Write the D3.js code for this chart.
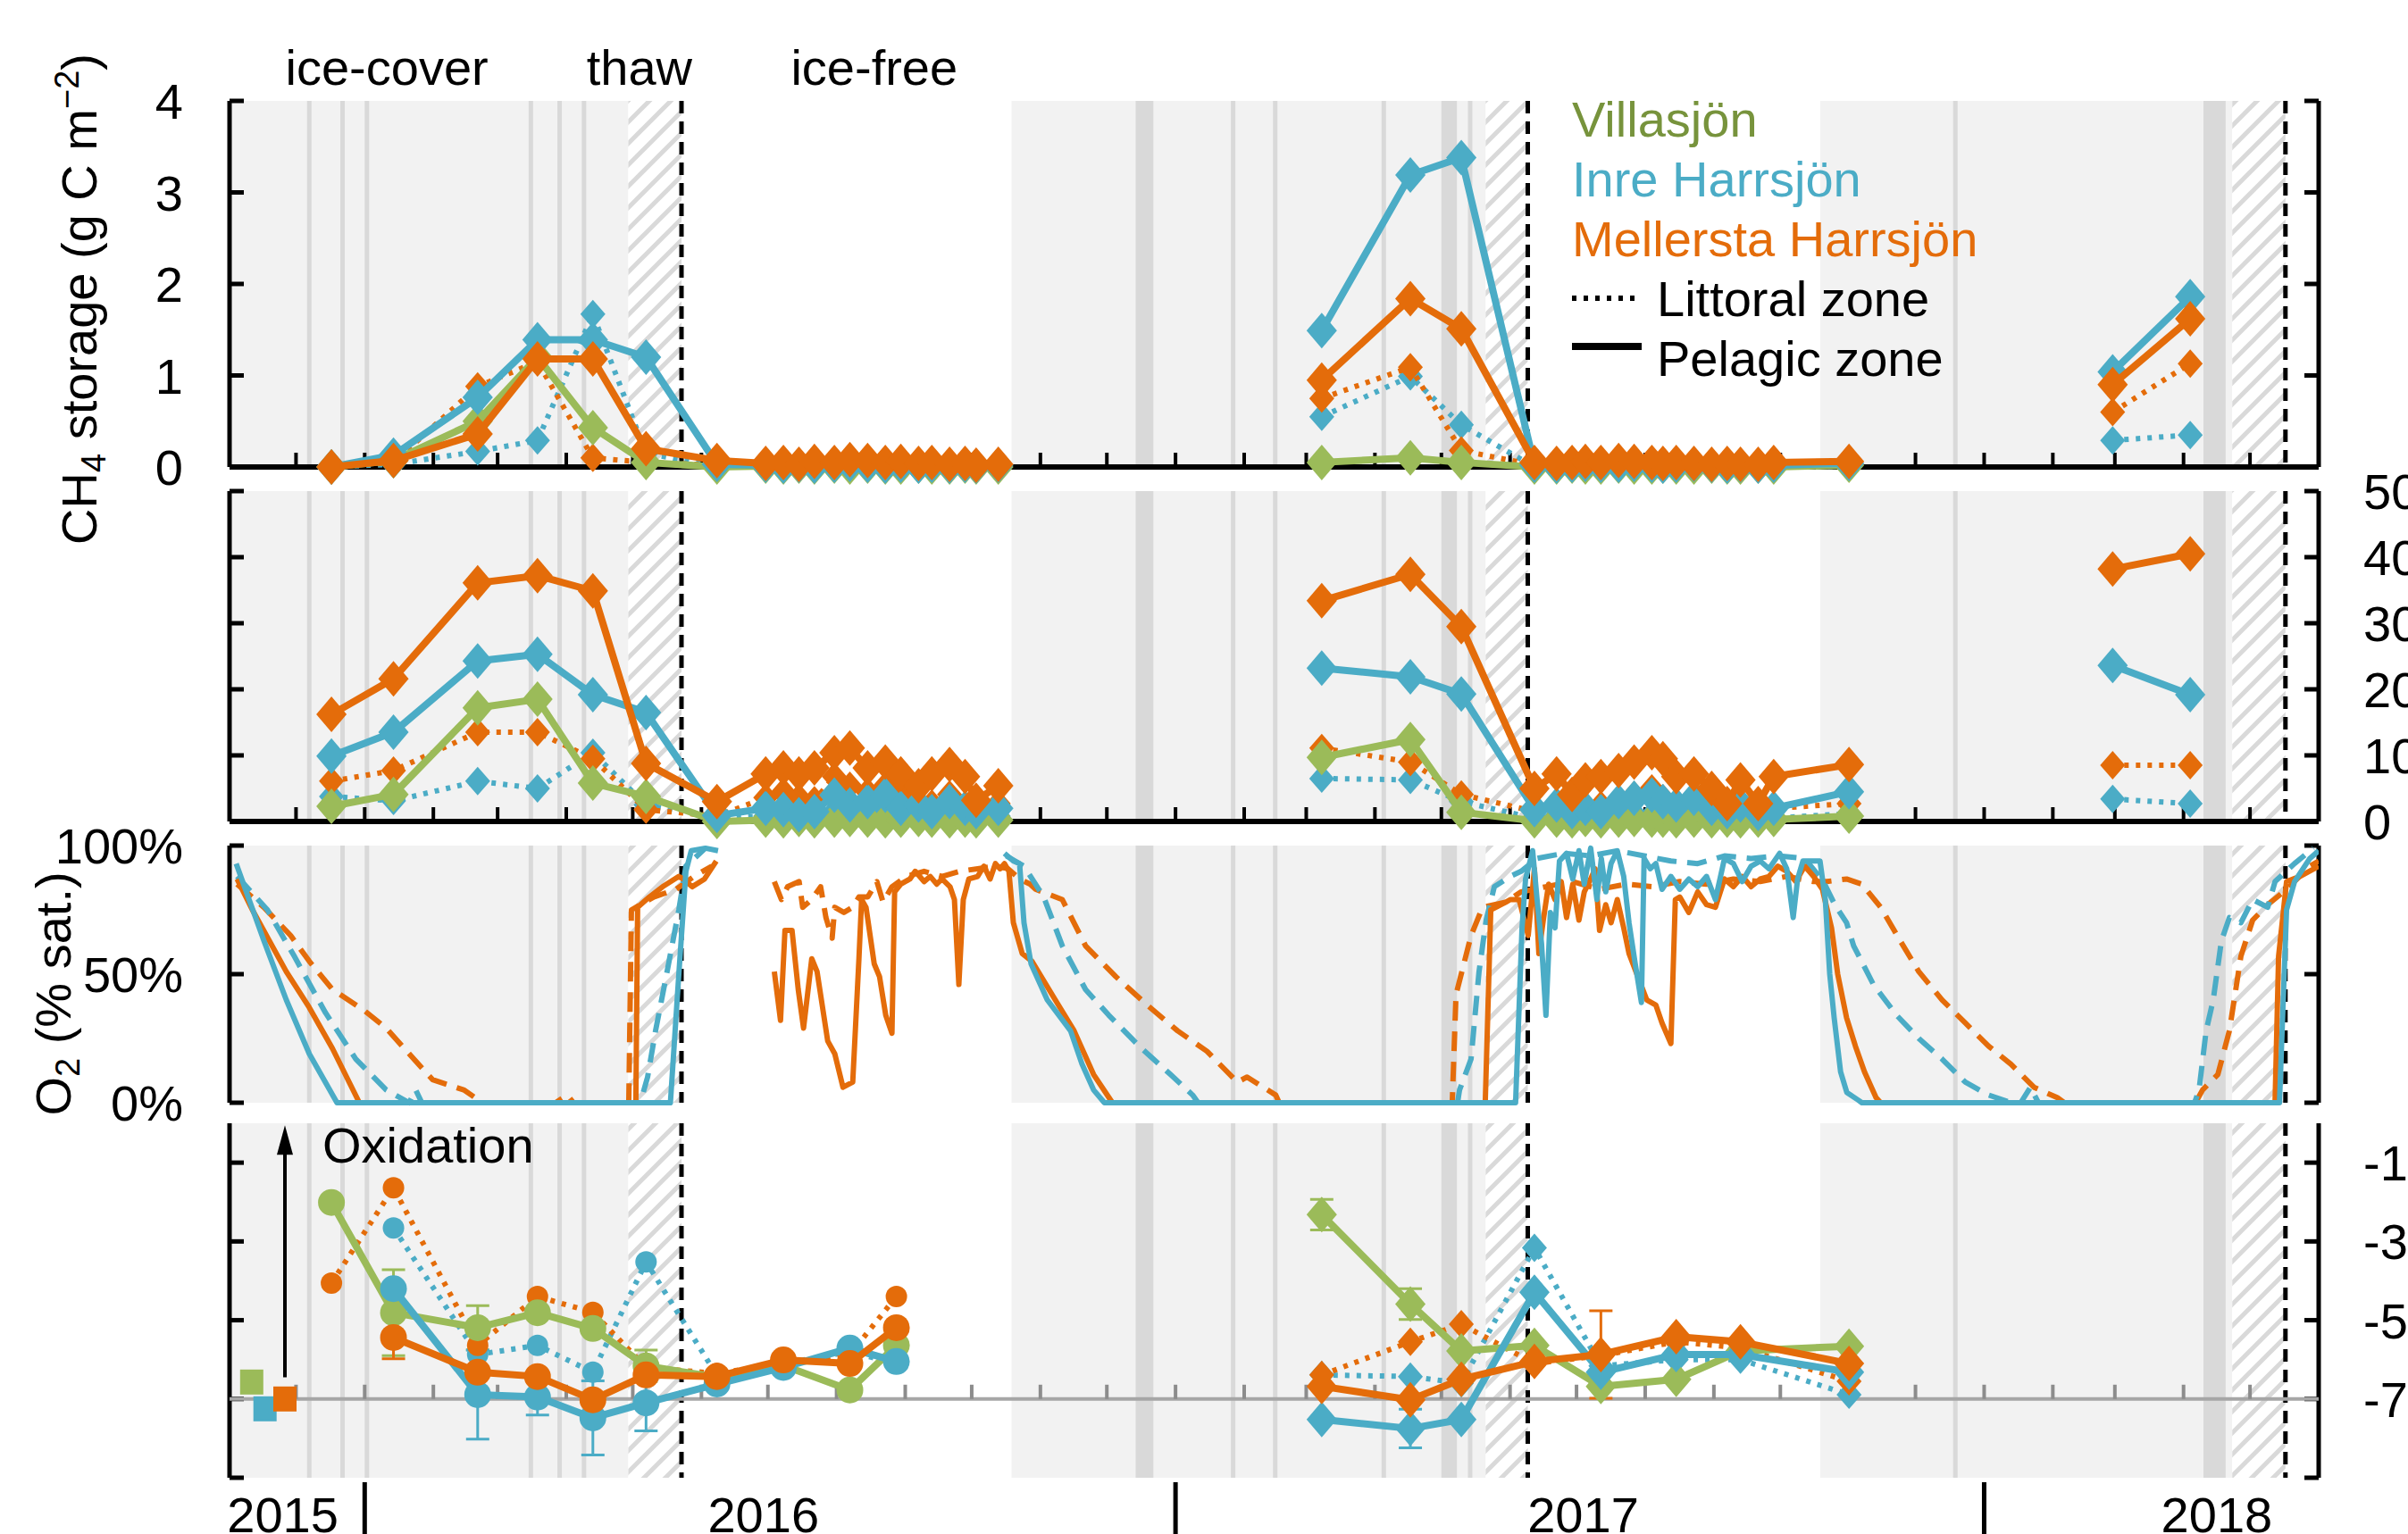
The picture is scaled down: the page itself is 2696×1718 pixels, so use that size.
<!DOCTYPE html>
<html>
<head>
<meta charset="utf-8">
<script src="https://cdn.jsdelivr.net/npm/d3@7"></script>
<style>
  body { margin: 0; background: #fff; }
  text { font-family: "Liberation Sans", Arial, sans-serif; }
</style>
</head>
<body>
<svg id="chart"></svg>
<script>
// ---- time axis ----
const xDomain = ["2015-11-01", "2018-06-01"];
const yearTicks = ["2016-01-01", "2017-01-01", "2018-01-01"];
const yearLabels = ["2015", "2016", "2017", "2018"];
const yearLabelDates = ["2015-11-25", "2016-06-29", "2017-07-04", "2018-04-16"];
const phaseLabels = ["ice-cover", "thaw", "ice-free"];
const phaseLabelDates = ["2016-01-11", "2016-05-04", "2016-08-18"];

// ---- ice phases ----
const iceStart = ["2015-11-01", "2016-10-19", "2017-10-19"];
const thawStart = ["2016-04-29", "2017-05-21", "2018-04-23"];
const iceOut = ["2016-05-23", "2017-06-09", "2018-05-17"];
const snowLines = ["2015-12-07", "2015-12-22", "2016-01-02", "2016-03-16", "2016-03-29", "2016-04-09",
                   "2017-01-27", "2017-02-15", "2017-04-05", "2017-05-14", "2017-12-19"];
const snowBands = [["2016-12-14", "2016-12-22"], ["2017-05-01", "2017-05-08"], ["2018-04-10", "2018-04-20"]];

// ---- sampling campaigns (panels 1 and 2) ----
const sampleDates = [
  "2015-12-17", "2016-01-14", "2016-02-21", "2016-03-19", "2016-04-13", "2016-05-07", "2016-06-08",
  "2016-06-30", "2016-07-08", "2016-07-15", "2016-07-22", "2016-07-31", "2016-08-07", "2016-08-15",
  "2016-08-23", "2016-08-30", "2016-09-07", "2016-09-13", "2016-09-21", "2016-09-28", "2016-10-03", "2016-10-13",
  "2017-03-08", "2017-04-17", "2017-05-10",
  "2017-06-12", "2017-06-22", "2017-06-29", "2017-07-05", "2017-07-12", "2017-07-20", "2017-07-27",
  "2017-08-04", "2017-08-09", "2017-08-15", "2017-08-23", "2017-08-31", "2017-09-07", "2017-09-13",
  "2017-09-21", "2017-09-28", "2017-11-01",
  "2018-02-28", "2018-04-04"];

// CH4 storage (g C m-2)
const storVillaP = [0, 0.07, 0.5, 1.2, 0.43, 0.05, 0,
  0.01, 0, 0.01, 0, 0.01, 0, 0.01, 0, 0, 0.01, 0, 0, 0.01, 0, 0,
  0.05, 0.1, 0.05,
  0, 0, 0.01, 0, 0, 0.01, 0, 0, 0.01, 0, 0, 0.01, 0, 0, 0.01, 0, 0.02,
  null, null];
const storInreP = [0, 0.13, 0.76, 1.39, 1.39, 1.2, 0.03,
  0.02, 0.01, 0.02, 0.01, 0.02, 0.03, 0.02, 0.01, 0.02, 0.01, 0.02, 0.01, 0.02, 0.01, 0.02,
  1.49, 3.19, 3.38,
  0.02, 0.01, 0.02, 0.03, 0.02, 0.02, 0.03, 0.02, 0.01, 0.02, 0.03, 0.02, 0.01, 0.02, 0.01, 0.02, 0.04,
  1.04, 1.86];
const storMellP = [0, 0.07, 0.36, 1.18, 1.18, 0.2, 0.07,
  0.04, 0.05, 0.03, 0.06, 0.05, 0.08, 0.07, 0.05, 0.06, 0.04, 0.05, 0.03, 0.04, 0.02, 0.03,
  0.95, 1.84, 1.51,
  0.05, 0.04, 0.05, 0.06, 0.05, 0.07, 0.06, 0.05, 0.04, 0.05, 0.04, 0.03, 0.04, 0.03, 0.03, 0.05, 0.06,
  0.9, 1.62];
const storInreL = [0, 0.03, 0.17, 0.29, 1.67, 0.15, 0.01,
  0, 0, 0, 0, 0, 0.01, 0, 0, 0, 0, 0, 0, 0, 0, 0,
  0.55, 0.99, 0.46,
  0, 0, 0, 0, 0, 0, 0, 0, 0, 0, 0, 0, 0, 0, 0, 0, 0.01,
  0.29, 0.35];
const storMellL = [0, 0.05, 0.88, 1.15, 0.1, 0.05, 0.02,
  0.01, 0.01, 0, 0.01, 0.01, 0.02, 0.01, 0.01, 0.01, 0, 0.01, 0, 0.01, 0, 0.01,
  0.75, 1.09, 0.18,
  0.02, 0.01, 0.01, 0.01, 0.01, 0.02, 0.02, 0.02, 0.01, 0.01, 0.01, 0.01, 0, 0.01, 0, 0.01, 0.02,
  0.6, 1.13];

// panel 2 (right axis 0-50)
const concVillaP = [2.3, 4.1, 17.2, 18.5, 5.8, 3.8, 0,
  0.2, 0.1, 0.3, 0.1, 0.2, 0.3, 0.2, 0.1, 0.2, 0.3, 0.2, 0.1, 0.2, 0.1, 0.2,
  9.7, 12.4, 1.4,
  0.1, 0.2, 0.1, 0.3, 0.1, 0.2, 0.3, 0.2, 0.2, 0.1, 0.2, 0.1, 0.2, 0.1, 0.2, 0.3, 0.8,
  null, null];
const concInreP = [9.9, 13.5, 24.3, 25.3, 19.2, 16.5, 0.9,
  2.0, 1.8, 1.0, 1.5, 4.0, 2.5, 3.0, 4.0, 2.0, 2.5, 1.5, 3.0, 2.0, 1.5, 2.0,
  23.2, 21.9, 19.3,
  1.8, 2.5, 1.5, 2.0, 1.5, 3.0, 3.5, 4.0, 3.0, 2.5, 3.5, 2.0, 1.5, 2.5, 1.2, 2.0, 4.5,
  23.6, 19.2];
const concMellP = [16.2, 21.6, 36.1, 37.2, 34.9, 8.8, 3.0,
  7.2, 8.1, 7.2, 8.1, 10.4, 11.1, 8.1, 9.0, 7.2, 5.4, 7.2, 8.6, 6.8, 3.2, 5.4,
  33.4, 37.4, 29.5,
  5.0, 7.2, 4.1, 6.3, 6.8, 7.7, 9.0, 10.4, 9.5, 6.8, 7.2, 5.0, 2.7, 6.3, 2.7, 6.8, 8.6,
  38.2, 40.5];
const concInreL = [3.8, 3.1, 6.1, 5.0, 10.4, 2.5, 0.5,
  0.8, 1.0, 0.5, 0.7, 1.5, 1.0, 1.2, 1.5, 1.0, 0.8, 0.6, 1.0, 0.8, 0.5, 0.8,
  6.5, 6.3, 3.0,
  0.5, 0.8, 0.5, 0.6, 0.7, 1.0, 1.2, 1.0, 0.8, 0.6, 0.9, 0.5, 0.4, 0.6, 0.4, 0.5, 1.2,
  3.4, 2.7];
const concMellL = [6.1, 7.7, 13.5, 13.5, 9.5, 1.8, 0.8,
  3.6, 4.5, 3.6, 3.2, 6.8, 5.4, 4.5, 5.4, 4.1, 2.3, 2.7, 4.1, 2.3, 1.4, 2.7,
  11.1, 9.0, 4.1,
  1.5, 2.0, 1.0, 1.5, 2.5, 3.0, 4.0, 5.0, 3.5, 2.5, 3.0, 2.0, 1.5, 2.5, 1.5, 2.0, 2.7,
  8.5, 8.5];

// ---- O2 saturation (%), [days after 2016-01-01, value]; null breaks the line ----
const o2Epoch = "2016-01-01";
const o2InreP = [[-58,93],[-45.5,63],[-35.4,40],[-25,19],[-12.5,0],[138,0],[141.8,50],[145,90],[147.4,98],[153.8,99],[159.5,98], null,
  [288.8,97],[292.8,94],[295.6,93],[297.6,70],[300.8,54],[308.1,40],[318.6,28],[323.8,15],[329,5],[333.9,0],
  [519.5,0],[522.4,68],[524,87],[527.2,98],[529.2,79],[531.2,62],[533.2,34],[535.2,74],[537.3,68],[539.3,94],
  [542.5,97],[545.3,87],[548.1,98],[550.5,85],[553.4,99],[556.2,79],[558.2,95],[560.2,82],[562.6,93],[565.4,98],
  [568.3,88],[570.7,70],[573.5,54],[576.3,39],[577.5,95],[580.3,91],[582.8,93],[585.6,83],[589.6,88],[593.6,83],
  [597.7,87],[601.7,84],[605.7,88],[609.7,79],[613.8,95],[617.8,93],[621.8,86],[625.8,92],[629.9,94],[633.9,91],
  [638.7,97],[641.9,91],[644.8,72],[646.8,87],[649.2,94],[652.9,94],[656.9,94],[659.3,79],[661.3,50],[663.3,33],
  [666.2,12],[669,4],[674.2,1],[675.8,0],[864.3,0],[867.5,75],[871.1,86],[878,95],[882,98]];
const o2InreL = [[-57.6,88],[-43.9,75],[-31.8,57],[-17.7,35],[-4,17],[9.7,5],[20.1,0],[23,5],[25.8,0],[124.4,0],
  [127.7,10],[131.3,28],[136.5,51],[141.8,75],[145,92],[153.8,99], null,
  [289.6,96],[297.6,92],[306.5,80],[314.9,61],[325.4,44],[335.9,34],[349.6,22],[363.7,11],[373.7,3],[376.2,0],
  [493.3,0],[494.2,5],[499.4,17],[503,51],[506.2,71],[509.9,84],[517.1,88],[522,90],[529.2,95],[541.3,97],
  [553.4,96],[565.4,98],[577.5,96],[589.6,94],[601.7,93],[613.8,96],[625.8,95],[637.9,96],[650,95],[658.4,86],
  [663.6,77],[668.9,70],[672.1,61],[681,46],[691.5,34],[701.5,25],[712,17],[722.5,8],[733,3],[743.1,0],
  [747.5,0],[751.9,6],[755.5,0],[826,0],[828,5],[831.2,28],[834.4,40],[838.1,63],[841.7,72],[846.9,70],
  [852.2,79],[859,76],[862.3,86],[871.1,93],[879.6,99]];
const o2MellP = [[-57.6,87],[-50.7,75],[-35.4,51],[-25,37],[-14.5,21],[-2.4,0],[122.4,0],[123.2,76],[128.5,80],
  [134.5,84],[141.8,88],[143.8,87],[147.8,84],[153.4,87],[158.7,94], null,
  [184.9,51],[187.7,32],[189.7,67],[192.9,67],[195.7,44],[198.1,29],[201.8,56],[204.2,51],[209,24],[212.2,19],
  [215.9,6],[220.3,8],[223.1,56],[224.3,79],[226.3,76],[230,54],[232.4,49],[235.2,34],[238,27],[239.2,82],
  [242,85],[246.1,87],[248.5,90],[252.5,86],[255.3,88],[258.2,85],[260.6,87],[264.2,84],[266.2,79],[268.2,46],
  [270.2,79],[272.7,87],[276.7,88],[279.5,92],[282.3,87],[284.7,93],[286.8,91],[288.8,93],[290.8,90],[292.8,70],
  [296.8,58],[301.2,55],[311.7,40],[320.2,28],[329,11],[337.5,0],[505.8,0],[508.3,75],[515.1,78],[517.1,79],
  [521.1,79],[525.2,65],[528,91],[530,58],[532,71],[534.4,85],[537.3,79],[540.1,86],[542.5,72],[545.3,85],
  [548.1,71],[550.5,82],[553.4,87],[555.4,91],[557.4,67],[560.2,77],[562.6,70],[565.4,79],[568.3,68],[570.7,58],
  [574.7,49],[578.7,40],[582.8,38],[585.6,31],[589.6,23],[591.6,79],[593.6,80],[597.7,74],[601.7,82],[605.7,77],
  [609.7,76],[613.8,87],[617.8,84],[621.8,88],[625.8,84],[629.9,87],[633.9,88],[637.9,92],[641.9,90],[646,86],
  [650,92],[654,88],[658,83],[662.1,68],[664.9,50],[668.9,33],[672.9,22],[677,12],[682.2,2],[684.3,0],
  [862.3,0],[863.9,57],[867.5,86],[873.5,88],[882,92]];
const o2MellL = [[-57.6,85],[-45.5,76],[-33.4,65],[-25,55],[-14.5,44],[-0.4,36],[9.7,29],[20.1,19],[30.6,9],[44.7,5],
  [53.2,0],[86.2,0],[91.4,3],[94.2,0],[119.2,0],[120.4,75],[130.5,80],[140.6,83],[148.6,88],[156.7,92], null,
  [184.9,86],[188.1,79],[190.9,84],[196.1,86],[197.7,76],[201.8,79],[205.8,84],[208.2,72],[211,64],[212.2,76],
  [216.3,74],[220.3,76],[223.1,80],[227.1,80],[231.2,86],[234,78],[238,84],[244.5,88],[252.5,90],[260.6,88],
  [268.6,90],[276.7,91],[284.7,92],[290.4,91],[295.6,87],[300.4,85],[302.9,83],[314.9,79],[325.4,61],[339.1,49],
  [353.2,38],[366.9,28],[380.2,20],[393.9,8],[398.3,10],[411.2,3],[412.8,0],[490.9,0],[492.6,42],[499.4,65],
  [504.6,76],[515.1,78],[522,82],[533.2,84],[545.3,86],[557.4,83],[569.5,85],[581.6,84],[593.6,86],[605.7,85],
  [617.8,87],[629.9,86],[641.9,88],[654,86],[660,86],[668.9,87],[675.8,85],[684.3,76],[693.1,63],[701.5,51],
  [712,40],[722.5,31],[733,22],[743.1,15],[753.5,6],[764,2],[767.2,0],[826.4,0],[829.6,5],[836.5,11],
  [841.7,28],[846.9,57],[852.2,71],[859,77],[867.5,83],[878,92],[882,94]];

// ---- panel 4 (right axis -90 .. 0) ----
const d13Dates = ["2015-12-17", "2016-01-14", "2016-02-21", "2016-03-19", "2016-04-13", "2016-05-07", "2016-06-08",
  "2016-07-08", "2016-08-07", "2016-08-28",
  "2017-03-08", "2017-04-17", "2017-05-10", "2017-06-12", "2017-07-12", "2017-08-15", "2017-09-13", "2017-11-01"];
const d13VillaP = [-20.1, -48.1, -51.9, -48.1, -52.1, -61.6, -64.5, -61.5, -67.7, -56.4,
  -23.2, -45.9, -57.8, -56.4, -66.8, -65.0, -57.8, -56.6];
const d13InreP = [null, -42.0, -68.9, -69.5, -74.8, -71.0, -66.2, -62.0, -57.1, -60.5,
  -75.2, -77.5, -75.2, -42.9, -63.2, -58.7, -58.7, -63.2];
const d13MellP = [null, -54.4, -63.2, -64.3, -70.2, -63.9, -64.3, -60.1, -61.0, -51.9,
  -66.8, -70.2, -65.0, -60.5, -58.7, -54.2, -55.5, -61.0];
const d13InreL = [null, -26.6, -58.7, -56.4, -63.2, -35.2, -64.0, -61.0, -58.0, -61.0,
  -63.9, -64.3, -66.0, -31.6, -61.6, -60.0, -60.0, -68.9];
const d13MellL = [-40.6, -16.4, -56.4, -44.0, -48.0, -62.0, -63.5, -61.0, -58.7, -44.0,
  -63.9, -55.5, -51.0, -61.0, -59.0, -55.5, -57.0, -65.5];
const errSeries = ["villa", "villa", "villa", "mell", "inre", "inre", "inre", "inre", "villa", "villa", "mell", "inre"];
const errIndex = [1, 2, 5, 1, 2, 3, 4, 5, 10, 11, 14, 11];
const errSize = [10.9, 5.6, 4.0, 5.4, 11.3, 4.6, 9.4, 7.1, 3.9, 3.9, 11.1, 4.9];
const srcDates = ["2015-11-11", "2015-11-17", "2015-11-26"];
const srcValues = [-65.7, -72.5, -70];
const srcLakes = ["villa", "inre", "mell"];

// ---- tick values ----
const storTicks = [0, 1, 2, 3, 4];
const concTicks = [0, 10, 20, 30, 40, 50];
const o2Ticks = [0, 50, 100];
const d13Ticks = [-10, -30, -50, -70, -90];
const d13Labels = [-10, -30, -50, -70];

// ---- styles ----
const colors = { villa: "#9bbb59", inre: "#4bacc6", mell: "#e46c0a" };
const legendColors = { villa: "#77933c", inre: "#4bacc6", mell: "#e46c0a" };
const W = 2696, H = 1718;
const X0 = 257, X1 = 2596;
const P1 = [113, 523], P2 = [550, 920], P3 = [947, 1235], P4 = [1258, 1655];
const FS = 56;

const parseDate = d3.timeParse("%Y-%m-%d");
const epoch = parseDate(o2Epoch);
const dayToDate = d => new Date(epoch.getTime() + d * 864e5);

const svg = d3.select("#chart").attr("width", W).attr("height", H);
svg.append("rect").attr("width", W).attr("height", H).attr("fill", "#fff");

const x = d3.scaleTime().domain(xDomain.map(parseDate)).range([X0, X1]);
const y1 = d3.scaleLinear().domain([0, 4]).range([P1[1], P1[0]]);
const y2 = d3.scaleLinear().domain([0, 50]).range([P2[1], P2[0]]);
const y3 = d3.scaleLinear().domain([0, 100]).range([P3[1], P3[0]]);
const y4 = d3.scaleLinear().domain([-90, 0]).range([P4[1], P4[0]]);

const defs = svg.append("defs");
const hatch = defs.append("pattern").attr("id", "hatch").attr("patternUnits", "userSpaceOnUse")
    .attr("width", 24).attr("height", 24);
hatch.append("rect").attr("width", 24).attr("height", 24).attr("fill", "#fff");
hatch.append("path").attr("d", "M0,24L24,0M-6,6L6,-6M18,30L30,18")
    .attr("stroke", "#d9d9d9").attr("stroke-width", 5);
defs.append("clipPath").attr("id", "clipO2").append("rect")
    .attr("x", X0).attr("y", P3[0] - 10).attr("width", X1 - X0).attr("height", P3[1] - P3[0] + 14);

// Shaded ice-cover / thaw periods, snow lines, ice-out lines
function drawBackground(top, bottom) {
    const g = svg.append("g");
    iceStart.forEach((s, i) => {
        const a = Math.max(X0, x(parseDate(s)));
        const b = x(parseDate(thawStart[i]));
        const c = Math.min(X1, x(parseDate(iceOut[i])));
        g.append("rect").attr("x", a).attr("y", top).attr("width", b - a).attr("height", bottom - top).attr("fill", "#f2f2f2");
        g.append("rect").attr("x", b).attr("y", top).attr("width", c - b).attr("height", bottom - top).attr("fill", "url(#hatch)");
    });
    snowBands.forEach(([s, e]) => {
        const a = x(parseDate(s)), b = x(parseDate(e));
        g.append("rect").attr("x", a).attr("y", top).attr("width", b - a).attr("height", bottom - top).attr("fill", "#d9d9d9");
    });
    g.selectAll(null).data(snowLines).join("line")
        .attr("x1", d => x(parseDate(d))).attr("x2", d => x(parseDate(d)))
        .attr("y1", top).attr("y2", bottom).attr("stroke", "#d9d9d9").attr("stroke-width", 5);
    g.selectAll(null).data(iceOut).join("line")
        .attr("x1", d => x(parseDate(d))).attr("x2", d => x(parseDate(d)))
        .attr("y1", top).attr("y2", bottom).attr("stroke", "#000").attr("stroke-width", 5)
        .attr("stroke-dasharray", "14,9");
}

function drawFrame(y, ticks, top, bottom, opts) {
    const g = svg.append("g").attr("stroke", "#000").attr("stroke-width", 5);
    g.append("line").attr("x1", X0).attr("x2", X0).attr("y1", top).attr("y2", bottom);
    g.append("line").attr("x1", X1).attr("x2", X1).attr("y1", top).attr("y2", bottom);
    ticks.forEach(t => {
        g.append("line").attr("x1", X0).attr("x2", X0 + 16).attr("y1", y(t)).attr("y2", y(t));
        g.append("line").attr("x1", X1 - 16).attr("x2", X1).attr("y1", y(t)).attr("y2", y(t));
    });
    if (opts.bottomAxis) {
        g.append("line").attr("x1", X0).attr("x2", X1).attr("y1", bottom).attr("y2", bottom).attr("stroke-width", 6);
    }
    if (opts.leftLabels) {
        svg.append("g").selectAll(null).data(opts.leftLabels).join("text")
            .attr("x", 205).attr("y", d => y(d)).attr("dy", "0.36em")
            .attr("text-anchor", "end").attr("font-size", FS)
            .text(d => opts.fmt ? opts.fmt(d) : d);
    }
    if (opts.rightLabels) {
        // the reference figure is cropped at its right edge, so these run off the page
        svg.append("g").selectAll(null).data(opts.rightLabels).join("text")
            .attr("x", 2646).attr("y", d => y(d)).attr("dy", "0.36em")
            .attr("text-anchor", "start").attr("font-size", FS)
            .text(d => d);
    }
}

function monthTicks(yPos, color) {
    const months = d3.timeMonth.range(d3.timeMonth.offset(x.domain()[0], 1), x.domain()[1]);
    svg.append("g").selectAll(null).data(months).join("line")
        .attr("x1", d => x(d)).attr("x2", d => x(d))
        .attr("y1", yPos - 16).attr("y2", yPos)
        .attr("stroke", color).attr("stroke-width", 4);
}

function markerPath(shape, big) {
    if (shape === "circle") {
        const r = big ? 15 : 12;
        return `M${-r},0a${r},${r} 0 1,0 ${2 * r},0a${r},${r} 0 1,0 ${-2 * r},0Z`;
    }
    const w = big ? 17 : 14, h = big ? 20 : 16;
    return `M0,${-h}L${w},0L0,${h}L${-w},0Z`;
}

// Sampled series: line (split at long gaps) + markers
function drawSampled(dates, values, y, color, littoral, shapeFor) {
    const pts = dates.map((d, i) => ({ d: parseDate(d), v: values[i] })).filter(p => p.v != null);
    const segs = [];
    pts.forEach((p, i) => {
        if (i === 0 || (p.d - pts[i - 1].d) / 864e5 > 90) segs.push([]);
        segs[segs.length - 1].push(p);
    });
    const g = svg.append("g");
    g.selectAll(null).data(segs).join("path")
        .attr("d", d3.line().x(p => x(p.d)).y(p => y(p.v)))
        .attr("fill", "none").attr("stroke", color)
        .attr("stroke-width", littoral ? 6 : 8)
        .attr("stroke-dasharray", littoral ? "5,8" : null)
        .attr("stroke-linejoin", "round");
    g.selectAll(null).data(pts).join("path")
        .attr("transform", p => `translate(${x(p.d)},${y(p.v)})`)
        .attr("d", p => markerPath(shapeFor(p.d), !littoral))
        .attr("fill", color);
}

function drawO2(series, color, dashed) {
    svg.append("path").datum(series)
        .attr("clip-path", "url(#clipO2)")
        .attr("d", d3.line().defined(p => p != null).x(p => x(dayToDate(p[0]))).y(p => y3(p[1])))
        .attr("fill", "none").attr("stroke", color).attr("stroke-width", 6)
        .attr("stroke-dasharray", dashed ? "22,12" : null)
        .attr("stroke-linejoin", "round");
}

// ---- backgrounds ----
[P1, P2, P3, P4].forEach(p => drawBackground(p[0], p[1]));

// ---- frames ----
drawFrame(y1, storTicks, P1[0], P1[1], { bottomAxis: true, leftLabels: storTicks });
drawFrame(y2, concTicks, P2[0], P2[1], { bottomAxis: true, rightLabels: concTicks.slice().reverse() });
drawFrame(y3, o2Ticks, P3[0], P3[1], { leftLabels: o2Ticks, fmt: d => d + "%" });
drawFrame(y4, d13Ticks, P4[0], P4[1], { rightLabels: d13Labels });
monthTicks(P1[1], "#000");
monthTicks(P2[1], "#000");
svg.append("line").attr("x1", X0).attr("x2", X1).attr("y1", y4(-70)).attr("y2", y4(-70))
    .attr("stroke", "#a6a6a6").attr("stroke-width", 4);
monthTicks(y4(-70), "#8c8c8c");

// year ticks and labels
svg.append("g").selectAll(null).data(yearTicks).join("line")
    .attr("x1", d => x(parseDate(d))).attr("x2", d => x(parseDate(d)))
    .attr("y1", 1660).attr("y2", H).attr("stroke", "#000").attr("stroke-width", 5);
svg.append("g").selectAll(null).data(yearLabels).join("text")
    .attr("x", (d, i) => x(parseDate(yearLabelDates[i]))).attr("y", 1716)
    .attr("text-anchor", "middle").attr("font-size", FS).text(d => d);

// phase labels
svg.append("g").selectAll(null).data(phaseLabels).join("text")
    .attr("x", (d, i) => x(parseDate(phaseLabelDates[i]))).attr("y", 95)
    .attr("text-anchor", "middle").attr("font-size", FS).text(d => d);

// ---- panel 1 & 2 data ----
const diamond = () => "diamond";
drawSampled(sampleDates, storInreL, y1, colors.inre, true, diamond);
drawSampled(sampleDates, storMellL, y1, colors.mell, true, diamond);
drawSampled(sampleDates, storVillaP, y1, colors.villa, false, diamond);
drawSampled(sampleDates, storInreP, y1, colors.inre, false, diamond);
drawSampled(sampleDates, storMellP, y1, colors.mell, false, diamond);

drawSampled(sampleDates, concInreL, y2, colors.inre, true, diamond);
drawSampled(sampleDates, concMellL, y2, colors.mell, true, diamond);
drawSampled(sampleDates, concVillaP, y2, colors.villa, false, diamond);
drawSampled(sampleDates, concInreP, y2, colors.inre, false, diamond);
drawSampled(sampleDates, concMellP, y2, colors.mell, false, diamond);

// ---- panel 3 ----
drawO2(o2MellL, colors.mell, true);
drawO2(o2InreL, colors.inre, true);
drawO2(o2MellP, colors.mell, false);
drawO2(o2InreP, colors.inre, false);

// ---- panel 4 ----
const d13Shape = d => d.getFullYear() < 2017 ? "circle" : "diamond";
const d13Pel = { villa: d13VillaP, inre: d13InreP, mell: d13MellP };
const errG = svg.append("g");
errSeries.forEach((s, k) => {
    const xi = x(parseDate(d13Dates[errIndex[k]]));
    const v = d13Pel[s][errIndex[k]];
    const lo = y4(v - errSize[k]), hi = y4(v + errSize[k]);
    errG.append("path")
        .attr("d", `M${xi},${lo}L${xi},${hi}M${xi - 13},${lo}L${xi + 13},${lo}M${xi - 13},${hi}L${xi + 13},${hi}`)
        .attr("stroke", colors[s]).attr("stroke-width", 3).attr("fill", "none");
});
drawSampled(d13Dates, d13InreL, y4, colors.inre, true, d13Shape);
drawSampled(d13Dates, d13MellL, y4, colors.mell, true, d13Shape);
drawSampled(d13Dates, d13VillaP, y4, colors.villa, false, d13Shape);
drawSampled(d13Dates, d13InreP, y4, colors.inre, false, d13Shape);
drawSampled(d13Dates, d13MellP, y4, colors.mell, false, d13Shape);

svg.append("g").selectAll(null).data(srcValues).join("rect")
    .attr("x", (d, i) => x(parseDate(srcDates[i])) - 13).attr("y", d => y4(d) - 14)
    .attr("width", 26).attr("height", 28)
    .attr("fill", (d, i) => colors[srcLakes[i]]);

// oxidation arrow
const ax = x(parseDate(srcDates[2]));
svg.append("line").attr("x1", ax).attr("x2", ax).attr("y1", y4(-64.5)).attr("y2", y4(-6))
    .attr("stroke", "#000").attr("stroke-width", 4);
svg.append("path").attr("d", `M${ax},${y4(-0.5)}L${ax - 9},${y4(-8)}L${ax + 9},${y4(-8)}Z`).attr("fill", "#000");
svg.append("text").attr("x", ax + 42).attr("y", 1302).attr("font-size", FS).text("Oxidation");

// ---- axis titles ----
const t1 = svg.append("text").attr("transform", "translate(108,335) rotate(-90)")
    .attr("text-anchor", "middle").attr("font-size", FS);
t1.append("tspan").text("CH");
t1.append("tspan").attr("dy", 10).attr("font-size", 38).text("4");
t1.append("tspan").attr("dy", -10).text(" storage (g C m");
t1.append("tspan").attr("dy", -20).attr("font-size", 38).text("−2");
t1.append("tspan").attr("dy", 20).text(")");

const t3 = svg.append("text").attr("transform", "translate(79,1113) rotate(-90)")
    .attr("text-anchor", "middle").attr("font-size", FS);
t3.append("tspan").text("O");
t3.append("tspan").attr("dy", 10).attr("font-size", 38).text("2");
t3.append("tspan").attr("dy", -10).text(" (% sat.)");

// ---- legend ----
const lg = svg.append("g").attr("font-size", FS);
[["Villasjön", "villa", 153], ["Inre Harrsjön", "inre", 220], ["Mellersta Harrsjön", "mell", 287]].forEach(([t, k, yy]) => {
    lg.append("text").attr("x", 1760).attr("y", yy).attr("fill", legendColors[k]).text(t);
});
lg.append("line").attr("x1", 1760).attr("x2", 1838).attr("y1", 334).attr("y2", 334)
    .attr("stroke", "#000").attr("stroke-width", 6).attr("stroke-dasharray", "5,8");
lg.append("text").attr("x", 1855).attr("y", 354).text("Littoral zone");
lg.append("line").attr("x1", 1760).attr("x2", 1838).attr("y1", 388).attr("y2", 388)
    .attr("stroke", "#000").attr("stroke-width", 8);
lg.append("text").attr("x", 1855).attr("y", 421).text("Pelagic zone");
</script>
</body>
</html>
